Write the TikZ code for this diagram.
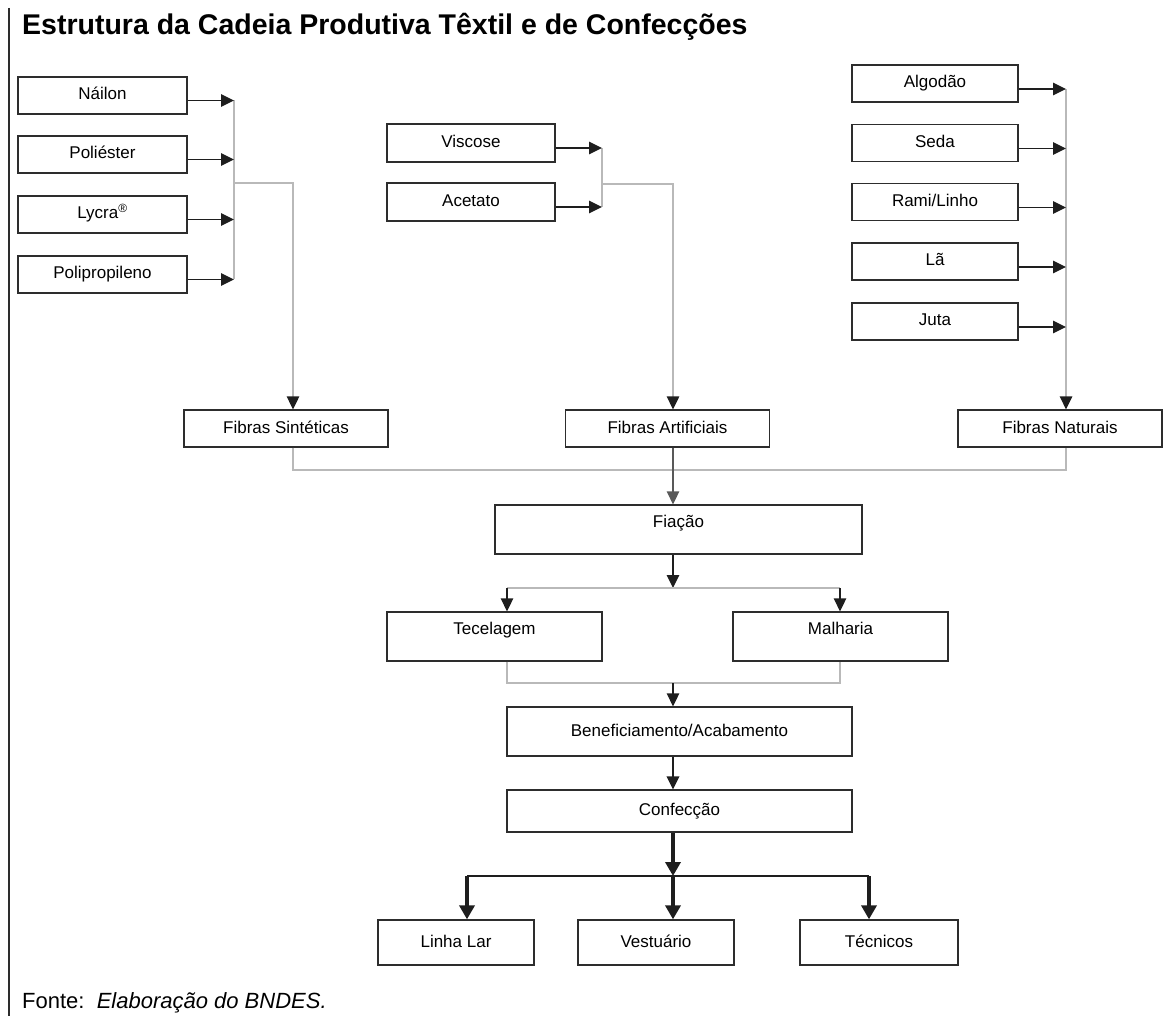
\documentclass[tikz,border=0pt]{standalone}
\usepackage{fontspec}
\setmainfont{Liberation Sans}
\usetikzlibrary{arrows.meta,positioning,calc}
\definecolor{boxline}{RGB}{45,45,45}
\definecolor{joinline}{RGB}{185,185,185}
\definecolor{feedline}{RGB}{30,30,30}
\newcommand{\lblfont}{\fontsize{17}{20}\selectfont}
\tikzset{
  fbox/.style={draw=boxline,line width=1.3pt,fill=white,inner sep=0pt,
               minimum height=37pt,text height=13pt,text depth=4pt,font=\lblfont},
  raised/.style={text depth=17pt},
  feed/.style={-{Triangle[length=13pt,width=12.5pt]},draw=feedline,line width=1.3pt},
  joinln/.style={draw=joinline,line width=1.4pt},
  joinarrow/.style={joinln,-{Triangle[length=13pt,width=12.5pt,color=feedline]}},
  heavy/.style={draw=feedline,line width=2pt},
  heavyarrow/.style={draw=feedline,line width=3.5pt,-{Triangle[length=14pt,width=15pt]}},
}

\begin{document}
\begin{tikzpicture}[x=1pt,y=-1pt]
  \useasboundingbox (0,0) rectangle (1170,1016);
  \draw[line width=1.3pt,boxline] (9,8) -- (9,1016);
  \node[anchor=base west,inner sep=0pt,font=\fontsize{28.5}{32}\selectfont\bfseries]
    (title) at (22,35) {Estrutura da Cadeia Produtiva Têxtil e de Confecções};
  % fibras sinteticas
  \node[fbox,minimum width=169pt] (nail)  at (102.5,95.5)  {Náilon};
  \node[fbox,minimum width=169pt] (poli)  at (102.5,154.5) {Poliéster};
  \node[fbox,minimum width=169pt] (lycra) at (102.5,214.5) {Lycra\textsuperscript{®}};
  \node[fbox,minimum width=169pt] (pp)    at (102.5,274.5) {Polipropileno};
  % fibras artificiais
  \node[fbox,minimum width=168pt,minimum height=38pt] (visc) at (471,143) {Viscose};
  \node[fbox,minimum width=168pt,minimum height=38pt] (acet) at (471,202) {Acetato};
  % fibras naturais
  \node[fbox,minimum width=166pt] (alg)  at (935,83.5)  {Algodão};
  \node[fbox,minimum width=166pt] (seda) at (935,143)   {Seda};
  \node[fbox,minimum width=166pt] (rami) at (935,202)   {Rami/Linho};
  \node[fbox,minimum width=166pt] (la)   at (935,261.5) {Lã};
  \node[fbox,minimum width=166pt] (juta) at (935,321.5) {Juta};
  % tipos de fibra
  \node[fbox,minimum width=204pt] (sint) at (286,428.5)  {Fibras Sintéticas};
  \node[fbox,minimum width=204pt] (arti) at (667.5,428.5) {Fibras Artificiais};
  \node[fbox,minimum width=204pt] (natu) at (1060,428.5) {Fibras Naturais};
  % cadeia
  \node[fbox,raised,minimum width=367pt,minimum height=49pt] (fiac) at (678.5,529.5) {Fiação};
  \node[fbox,raised,minimum width=215pt,minimum height=49pt] (tece) at (494.5,636.5) {Tecelagem};
  \node[fbox,raised,minimum width=215pt,minimum height=49pt] (malh) at (840.5,636.5) {Malharia};
  \node[fbox,minimum width=345pt,minimum height=49pt] (bene) at (679.5,731.5) {Beneficiamento/Acabamento};
  \node[fbox,minimum width=345pt,minimum height=42pt] (conf) at (679.5,811) {Confecção};
  \node[fbox,minimum width=156pt,minimum height=45pt] (lar)  at (456,942.5) {Linha Lar};
  \node[fbox,minimum width=156pt,minimum height=45pt] (vest) at (656,942.5) {Vestuário};
  \node[fbox,minimum width=158pt,minimum height=45pt] (tecn) at (879,942.5) {Técnicos};
  \node[anchor=base west,inner sep=0pt,font=\fontsize{22}{26}\selectfont]
    (fonte) at (22,1008) {Fonte:\ \ \textit{Elaboração do BNDES.}};

  % junction points
  \coordinate (jS) at (234,183);
  \coordinate (jA) at (602,184);
  \coordinate (cS) at (293,470);
  \coordinate (cA) at (673,470);
  \coordinate (cN) at (1066,470);
  \coordinate (sp) at (673,588);
  \coordinate (tL) at (507,588);
  \coordinate (tR) at (840,588);
  \coordinate (mL) at (507,683);
  \coordinate (mC) at (673,683);
  \coordinate (mR) at (840,683);
  \coordinate (fL) at (467,876);
  \coordinate (fC) at (673,876);
  \coordinate (fR) at (869,876);

  % entradas
  \draw[joinln] ([yshift=-5pt]nail.east -| jS) -- ([yshift=-5pt]pp.east -| jS);
  \foreach \n in {nail,poli,lycra,pp}
    \draw[feed] ([yshift=-5pt]\n.east) -- ([yshift=-5pt]\n.east -| jS);
  \draw[joinarrow] (jS) -| (cS |- sint.north);
  \draw[joinln] ([yshift=-5pt]visc.east -| jA) -- ([yshift=-5pt]acet.east -| jA);
  \foreach \n in {visc,acet}
    \draw[feed] ([yshift=-5pt]\n.east) -- ([yshift=-5pt]\n.east -| jA);
  \draw[joinarrow] (jA) -| (cA |- arti.north);
  \draw[joinarrow] ([yshift=-5.5pt]alg.east -| cN) -- (cN |- natu.north);
  \foreach \n in {alg,seda,rami,la,juta}
    \draw[feed] ([yshift=-5.5pt]\n.east) -- ([yshift=-5.5pt]\n.east -| cN);

  % fibras -> fiacao
  \draw[joinln] (cS |- sint.south) -- (cS) -- (cN) -- (cN |- natu.south);
  \draw[feed,draw=black!65] (cA |- arti.south) -- (cA |- fiac.north);
  \draw[feed] (cA |- fiac.south) -- (sp);
  \draw[joinln] (tL) -- (tR);
  \draw[feed] (tL) -- (tL |- tece.north);
  \draw[feed] (tR) -- (tR |- malh.north);
  \draw[joinln] (mL |- tece.south) -- (mL) -- (mR) -- (mR |- malh.south);
  \draw[feed] (mC) -- (mC |- bene.north);
  \draw[feed,line width=2pt] (cA |- bene.south) -- (cA |- conf.north);

  % confeccao -> produtos
  \draw[heavy] (fL) -- (fR);
  \draw[heavyarrow] (cA |- conf.south) -- (fC);
  \draw[heavyarrow] (fL) -- (fL |- lar.north);
  \draw[heavyarrow] (fC) -- (fC |- vest.north);
  \draw[heavyarrow] (fR) -- (fR |- tecn.north);
\end{tikzpicture}
\end{document}
